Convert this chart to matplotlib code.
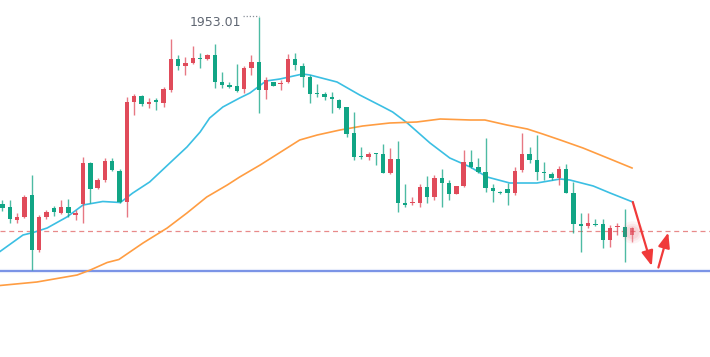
import matplotlib
matplotlib.use("Agg")
import matplotlib.pyplot as plt
import numpy as np

# candle data (open, high, low, close)
opens = [1915.6, 1915.0, 1912.4, 1913.0, 1917.4, 1906.4, 1913.0, 1914.8, 1913.8, 1915.0,
         1913.4, 1915.6, 1923.8, 1918.8, 1920.4, 1924.2, 1922.2, 1916.0, 1936.0, 1937.2,
         1935.6, 1936.4, 1935.8, 1938.4, 1944.6, 1943.2, 1943.8, 1944.8, 1944.6, 1945.4,
         1940.0, 1939.4, 1939.2, 1938.6, 1942.8, 1944.0, 1938.4, 1940.0, 1939.6, 1940.0,
         1944.6, 1943.2, 1941.0, 1937.8, 1937.6, 1937.0, 1936.4, 1935.0, 1929.8, 1925.2,
         1925.0, 1925.8, 1925.6, 1921.8, 1924.6, 1915.8, 1915.8, 1915.8, 1919.0, 1917.0,
         1920.8, 1919.8, 1917.6, 1919.2, 1924.0, 1923.0, 1922.0, 1918.8, 1918.0, 1918.6,
         1917.8, 1922.4, 1925.6, 1924.4, 1922.0, 1921.6, 1920.8, 1922.6, 1917.8, 1911.6,
         1911.2, 1911.6, 1911.6, 1908.4, 1911.0, 1911.0, 1909.4]
highs = [1916.4, 1916.4, 1913.8, 1917.4, 1921.4, 1913.4, 1914.4, 1915.2, 1916.4, 1916.6,
         1914.4, 1925.0, 1924.0, 1920.8, 1924.8, 1924.8, 1922.6, 1937.0, 1937.6, 1937.4,
         1936.8, 1936.8, 1939.0, 1948.6, 1945.4, 1945.0, 1947.2, 1945.8, 1945.6, 1947.6,
         1942.0, 1940.0, 1943.6, 1943.2, 1945.4, 1953.01, 1941.0, 1940.0, 1940.4, 1945.6,
         1945.8, 1943.8, 1941.4, 1939.6, 1938.0, 1938.0, 1936.6, 1935.0, 1934.0, 1927.0,
         1926.0, 1925.8, 1927.6, 1926.8, 1928.2, 1919.6, 1917.0, 1919.6, 1921.2, 1921.4,
         1922.6, 1920.4, 1919.2, 1926.4, 1926.4, 1924.8, 1928.8, 1919.6, 1918.2, 1919.8,
         1923.0, 1929.8, 1927.0, 1929.4, 1924.0, 1922.0, 1923.2, 1923.6, 1920.0, 1913.8,
         1913.8, 1912.6, 1912.6, 1911.4, 1911.8, 1914.6, 1911.0]
lows = [1914.2, 1911.8, 1911.8, 1912.8, 1902.4, 1906.0, 1912.6, 1913.2, 1913.6, 1913.0,
        1912.4, 1911.8, 1915.8, 1918.6, 1920.0, 1922.2, 1915.8, 1913.0, 1933.4, 1935.2,
        1934.8, 1934.4, 1935.0, 1938.0, 1942.4, 1941.4, 1943.6, 1942.8, 1944.4, 1938.8,
        1938.8, 1938.8, 1938.0, 1937.8, 1941.4, 1933.8, 1936.6, 1939.2, 1938.4, 1939.8,
        1942.4, 1939.0, 1935.8, 1937.0, 1936.4, 1933.8, 1934.6, 1929.0, 1924.4, 1924.6,
        1924.4, 1923.4, 1921.8, 1921.6, 1914.0, 1915.0, 1915.4, 1915.0, 1915.8, 1916.4,
        1915.0, 1916.4, 1917.6, 1919.0, 1922.8, 1921.8, 1918.0, 1916.0, 1917.6, 1915.4,
        1917.4, 1922.0, 1923.8, 1920.4, 1920.4, 1920.4, 1919.4, 1917.8, 1909.8, 1906.0,
        1910.8, 1911.2, 1906.8, 1907.0, 1909.4, 1904.0, 1908.0]
closes = [1914.8, 1912.6, 1913.0, 1917.0, 1906.4, 1913.0, 1914.0, 1914.0, 1915.0, 1913.8,
          1913.8, 1923.8, 1918.6, 1920.4, 1924.2, 1922.4, 1916.0, 1936.0, 1937.2, 1935.6,
          1936.0, 1936.0, 1938.6, 1944.6, 1943.2, 1943.8, 1944.8, 1944.6, 1945.4, 1940.0,
          1939.4, 1939.0, 1938.2, 1942.8, 1944.0, 1938.4, 1940.4, 1939.2, 1939.8, 1944.6,
          1943.4, 1941.0, 1937.6, 1937.6, 1937.0, 1936.6, 1934.8, 1929.6, 1925.0, 1925.0,
          1925.6, 1925.6, 1921.8, 1924.6, 1915.8, 1915.4, 1916.0, 1919.0, 1917.0, 1920.8,
          1919.8, 1917.6, 1919.2, 1924.0, 1923.0, 1922.0, 1918.8, 1918.2, 1917.8, 1917.8,
          1922.2, 1925.6, 1924.4, 1922.0, 1921.8, 1920.8, 1922.6, 1917.8, 1911.6, 1911.2,
          1911.8, 1911.4, 1908.4, 1910.8, 1911.2, 1909.0, 1910.8]

# moving averages sampled along the candles
ma_fast_idx = [-0.34, 2.8, 4.2, 6.1, 8.8, 11.0, 13.7, 16.1, 17.8, 20.1, 23.3, 25.2, 27.0,
               28.3, 30.1, 32.4, 33.8, 36.0, 37.9, 41.0, 42.0, 45.7, 48.8, 52.0, 53.3,
               55.3, 58.4, 61.1, 63.9, 66.2, 69.3, 73.0, 76.2, 77.5, 80.7, 83.0, 86.1]
ma_fast = [1906.1, 1909.4, 1909.9, 1910.8, 1913.0, 1915.4, 1916.1, 1915.9, 1917.8, 1920.0,
           1924.4, 1927.0, 1930.0, 1932.8, 1935.0, 1936.8, 1937.8, 1940.2, 1940.6, 1941.6,
           1941.4, 1940.0, 1937.4, 1935.0, 1934.0, 1931.8, 1927.8, 1924.8, 1923.0, 1921.0,
           1919.8, 1919.8, 1920.6, 1920.4, 1919.2, 1917.8, 1916.0]
ma_slow_idx = [-0.34, 4.7, 10.2, 12.0, 14.3, 15.9, 19.2, 22.5, 25.2, 27.9, 30.7, 32.4,
               35.2, 40.6, 43.0, 46.1, 49.2, 52.9, 56.6, 59.8, 63.9, 65.9, 68.9, 71.7,
               73.8, 76.2, 79.3, 83.0, 86.0]
ma_slow = [1899.3, 1900.0, 1901.4, 1902.4, 1903.9, 1904.5, 1907.8, 1910.8, 1913.8, 1917.0,
           1919.4, 1921.0, 1923.4, 1928.4, 1929.4, 1930.4, 1931.2, 1931.8, 1932.0, 1932.6,
           1932.4, 1932.4, 1931.4, 1930.6, 1929.6, 1928.4, 1926.8, 1924.6, 1922.8]

last_price = 1910.2
support = 1902.3

# forecast arrows: down then up
arrow_idx = [86.1, 88.7, 89.6, 90.95]
arrow_price = [1916.0, 1903.2, 1902.9, 1909.9]

RED = '#e04b5a'
GREEN = '#11a585'

fig = plt.figure(figsize=(7.1, 3.57), dpi=100)
ax = fig.add_axes([0, 0, 1, 1])
ax.set_xlim(-0.34, 96.65)
ax.set_ylim(1885.0, 1956.4)
ax.axis('off')

o = np.array(opens); c = np.array(closes); h = np.array(highs); l = np.array(lows)
idx = np.arange(len(o))
up = c >= o
cols = np.where(up, RED, GREEN)
n = len(o)

# wicks and bodies (last candle drawn separately with a glow)
ax.vlines(idx[:-1], l[:-1], h[:-1], colors=cols[:-1], linewidth=1, alpha=0.75, zorder=3)
body_lo = np.minimum(o, c)
body_h = np.maximum(np.abs(c - o), 0.25)
ax.bar(idx[:-1], body_h[:-1], bottom=body_lo[:-1], width=0.6, color=cols[:-1],
       linewidth=0, zorder=4)

# glowing current candle
k = n - 1
for s, a in [(260, 0.06), (160, 0.08), (90, 0.1)]:
    ax.scatter([k], [(o[k] + c[k]) / 2], s=s, color=RED, alpha=a, linewidths=0, zorder=4)
ax.vlines(k, l[k], h[k], colors=RED, linewidth=1, alpha=0.6, zorder=4)
ax.bar(k, body_h[k], bottom=body_lo[k], width=0.6, color=RED, alpha=0.7, linewidth=0, zorder=5)

# moving averages
ax.plot(ma_fast_idx, ma_fast, color='#3bbfe3', lw=1.2, zorder=2)
ax.plot(ma_slow_idx, ma_slow, color='#ff9d42', lw=1.2, zorder=2)

# reference lines
ax.axhline(last_price, color='#e88a8a', lw=0.9, ls=(0, (4, 3)), zorder=1)
ax.axhline(support, color='#b4c4f4', lw=3, alpha=0.3, zorder=1)
ax.axhline(support, color='#5a79e0', lw=1.1, zorder=1)

# high label
hi = int(np.argmax(h))
ax.annotate('%.2f' % h[hi], xy=(hi, h[hi]), xytext=(-18, -8.7), textcoords='offset pixels',
            ha='right', va='baseline', fontsize=9, color='#5f6672')
ax.plot([hi - 2.15, hi], [h[hi] + 0.25, h[hi] + 0.25], color='#8a909a', lw=0.9,
        ls=(0, (1, 1.5)), zorder=2)

# arrows
red_arrow = '#f03a3a'
for j in (0, 2):
    ax.annotate('', xy=(arrow_idx[j + 1], arrow_price[j + 1]),
                xytext=(arrow_idx[j], arrow_price[j]),
                arrowprops=dict(arrowstyle='-|>,head_length=0.9,head_width=0.35',
                                color=red_arrow, lw=1.6, shrinkA=0, shrinkB=0),
                zorder=6)

plt.savefig('out.png', dpi=100)
plt.close()
